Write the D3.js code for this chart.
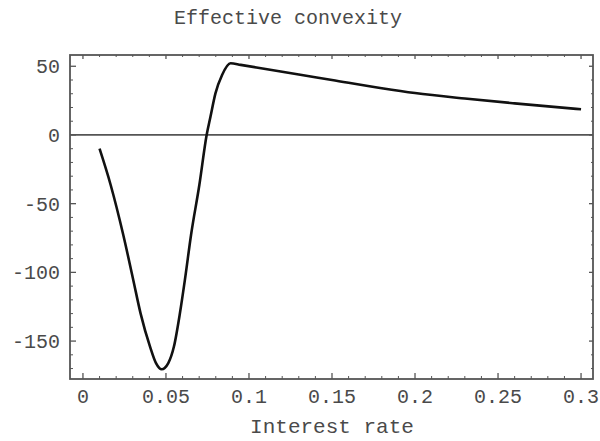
<!DOCTYPE html>
<html>
<head>
<meta charset="utf-8">
<script src="https://cdn.jsdelivr.net/npm/d3@7"></script>
<style>
  body { margin: 0; background: #fff; }
  text { font-family: "Liberation Mono", "DejaVu Sans Mono", monospace; fill: #4a4a4a; }
</style>
</head>
<body>
<script>
// interest rate (x) and effective convexity (y)
const rates = [0.010, 0.0167, 0.0243, 0.0303, 0.0347, 0.0404, 0.044, 0.0474, 0.0514,
               0.0548, 0.0584, 0.0614, 0.0651, 0.0701, 0.0745, 0.0768, 0.0798, 0.0838,
               0.0889, 0.095, 0.110, 0.130, 0.150, 0.180, 0.200, 0.230, 0.260, 0.300];
const convexity = [-10, -36.4, -72.8, -105.5, -129.8, -154, -166, -170.5, -166,
                   -154, -129.8, -105.5, -72.8, -36.4, 0, 13.3, 30.3, 43.7,
                   52.2, 51, 48, 44, 40, 34, 30.5, 26.5, 23, 18.7];

const xTicks = [0, 0.05, 0.1, 0.15, 0.2, 0.25, 0.3];
const yTicks = [50, 0, -50, -100, -150];
const xTickLabels = ["0", "0.05", "0.1", "0.15", "0.2", "0.25", "0.3"];

const width = 600, height = 441;
const pL = 70, pR = 593, pT = 55, pB = 379;

const svg = d3.select("body").append("svg")
  .attr("width", width)
  .attr("height", height);

const x = d3.scaleLinear().domain([-0.0078, 0.3072]).range([pL, pR]);
const y = d3.scaleLinear().domain([-177.6, 58.2]).range([pB, pT]);

// minor ticks
const xMinor = d3.range(0, 0.3001, 0.01).filter(v => !xTicks.some(t => Math.abs(t - v) < 1e-6));
const yMinor = d3.range(-170, 51, 10).filter(v => v % 50 !== 0);

// bottom and top ticks (inward)
svg.append("g").selectAll("line").data(xTicks).join("line")
  .attr("x1", d => x(d)).attr("x2", d => x(d))
  .attr("y1", pB).attr("y2", pB - 6)
  .attr("stroke", "#555").attr("stroke-width", 1.3);
svg.append("g").selectAll("line").data(xMinor).join("line")
  .attr("x1", d => x(d)).attr("x2", d => x(d))
  .attr("y1", pB).attr("y2", pB - 3)
  .attr("stroke", "#555").attr("stroke-width", 1);
svg.append("g").selectAll("line").data(xTicks).join("line")
  .attr("x1", d => x(d)).attr("x2", d => x(d))
  .attr("y1", pT).attr("y2", pT + 4)
  .attr("stroke", "#555").attr("stroke-width", 1.3);
svg.append("g").selectAll("line").data(xMinor).join("line")
  .attr("x1", d => x(d)).attr("x2", d => x(d))
  .attr("y1", pT).attr("y2", pT + 2)
  .attr("stroke", "#555").attr("stroke-width", 1);

// left and right ticks (inward)
svg.append("g").selectAll("line").data(yTicks).join("line")
  .attr("x1", pL).attr("x2", pL + 6)
  .attr("y1", d => y(d)).attr("y2", d => y(d))
  .attr("stroke", "#555").attr("stroke-width", 1.3);
svg.append("g").selectAll("line").data(yMinor).join("line")
  .attr("x1", pL).attr("x2", pL + 3)
  .attr("y1", d => y(d)).attr("y2", d => y(d))
  .attr("stroke", "#555").attr("stroke-width", 1);
svg.append("g").selectAll("line").data(yTicks).join("line")
  .attr("x1", pR).attr("x2", pR - 4)
  .attr("y1", d => y(d)).attr("y2", d => y(d))
  .attr("stroke", "#555").attr("stroke-width", 1.3);
svg.append("g").selectAll("line").data(yMinor).join("line")
  .attr("x1", pR).attr("x2", pR - 2)
  .attr("y1", d => y(d)).attr("y2", d => y(d))
  .attr("stroke", "#555").attr("stroke-width", 1);

// zero line
svg.append("line")
  .attr("x1", pL).attr("x2", pR)
  .attr("y1", y(0)).attr("y2", y(0))
  .attr("stroke", "#555").attr("stroke-width", 1.8);

// frame
svg.append("rect")
  .attr("x", pL).attr("y", pT)
  .attr("width", pR - pL).attr("height", pB - pT)
  .attr("fill", "none").attr("stroke", "#555").attr("stroke-width", 1.8);

// tick labels
svg.append("g").selectAll("text").data(xTicks).join("text")
  .attr("x", d => x(d)).attr("y", 403)
  .attr("text-anchor", "middle")
  .attr("font-size", 20)
  .text((d, i) => xTickLabels[i]);

svg.append("g").selectAll("text").data(yTicks).join("text")
  .attr("x", 60).attr("y", d => y(d) + 7)
  .attr("text-anchor", "end")
  .attr("font-size", 20)
  .text(d => d);

// curve
const pts = rates.map((r, i) => [r, convexity[i]]);
const line = d3.line()
  .x(d => x(d[0]))
  .y(d => y(d[1]))
  .curve(d3.curveMonotoneX);

svg.append("path")
  .datum(pts)
  .attr("d", line)
  .attr("fill", "none")
  .attr("stroke", "#111")
  .attr("stroke-width", 2.6)
  .attr("stroke-linejoin", "round");

// titles
svg.append("text")
  .attr("x", 288).attr("y", 24)
  .attr("text-anchor", "middle")
  .attr("font-size", 20)
  .text("Effective convexity");

svg.append("text")
  .attr("x", 332).attr("y", 433)
  .attr("text-anchor", "middle")
  .attr("font-size", 21)
  .text("Interest rate");
</script>
</body>
</html>
